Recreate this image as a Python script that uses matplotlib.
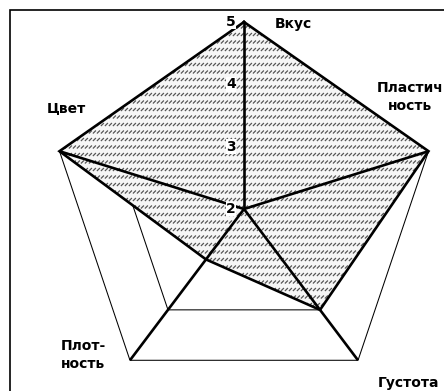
import numpy as np
import matplotlib.pyplot as plt
from matplotlib.patches import Polygon, Rectangle
from matplotlib.collections import LineCollection

plt.rcParams['font.family'] = ['DejaVu Sans']

# data
categories = ['Вкус', 'Пластич\nность', 'Густота', 'Плот-\nность', 'Цвет']
values = [5, 5, 4, 3, 5]
grid_levels = [3, 4, 5]
vmin, vmax = 2, 5

sx = 194 / 187  # the original is a bit wider than tall

def to_xy(v, i):
    a = np.deg2rad(90 - 72 * i)
    r = (v - vmin) / (vmax - vmin)
    return r * np.cos(a) * sx, r * np.sin(a)

n = len(categories)

fig = plt.figure(figsize=(4.44, 3.91), dpi=100)
ax = fig.add_axes([0, 0, 1, 1])
ax.set_xlim(-244 / 187, 200 / 187)
ax.set_ylim((209 - 391) / 187, 209 / 187)
ax.axis('off')

# grid pentagons (thin)
for lev in grid_levels:
    pts = [to_xy(lev, i) for i in range(n)]
    ax.add_patch(Polygon(pts, closed=True, fill=False, ec='black', lw=0.75, zorder=1))

# series polygon: white fill + dashed diagonal texture
pts = [to_xy(v, i) for i, v in enumerate(values)]
poly = Polygon(pts, closed=True, fc='#f6f6f6', ec='none', zorder=2)
ax.add_patch(poly)

px = 1 / 187
segs = []
for yy in np.arange(-1.0, 1.15, 7.5 * px):
    for xx in np.arange(-1.3, 1.1, 4 * px):
        segs.append([(xx, yy), (xx + 3 * px, yy + 3 * px)])
lc = LineCollection(segs, colors='#555555', linewidths=0.9, zorder=3)
lc.set_clip_path(poly)
ax.add_collection(lc)

# spokes (bold)
for i in range(n):
    x, y = to_xy(vmax, i)
    ax.plot([0, x], [0, y], color='black', lw=1.9, zorder=4, solid_capstyle='butt')

# series outline
xs = [p[0] for p in pts] + [pts[0][0]]
ys = [p[1] for p in pts] + [pts[0][1]]
ax.plot(xs, ys, color='black', lw=1.9, zorder=5, solid_joinstyle='miter')

# value labels along vertical axis
for lev in range(vmin, vmax + 1):
    x, y = to_xy(lev, 0)
    ax.text(x - 8 * px, y, str(lev), ha='right', va='center',
            fontsize=10, fontweight='bold', zorder=6,
            bbox=dict(fc='white', ec='none', pad=0.3))

# category labels
lab_pos = [(275, 24, 'left'), (410, 97, 'center'), (378, 383, 'left'),
           (83, 355, 'center'), (66, 108, 'center')]
for lab, (lx, ly, ha) in zip(categories, lab_pos):
    ax.text((lx - 244) / 187, (209 - ly) / 187, lab, ha=ha, va='center',
            fontsize=10, fontweight='bold', linespacing=1.45, zorder=6)

# frame of the original chart area (only left and top visible)
fig.patches.append(Rectangle((9.5 / 444, -0.1), 1.2, 1.1 - 9.5 / 391,
                             transform=fig.transFigure, fill=False,
                             ec='black', lw=1.2))

fig.savefig('out.png', dpi=100)
